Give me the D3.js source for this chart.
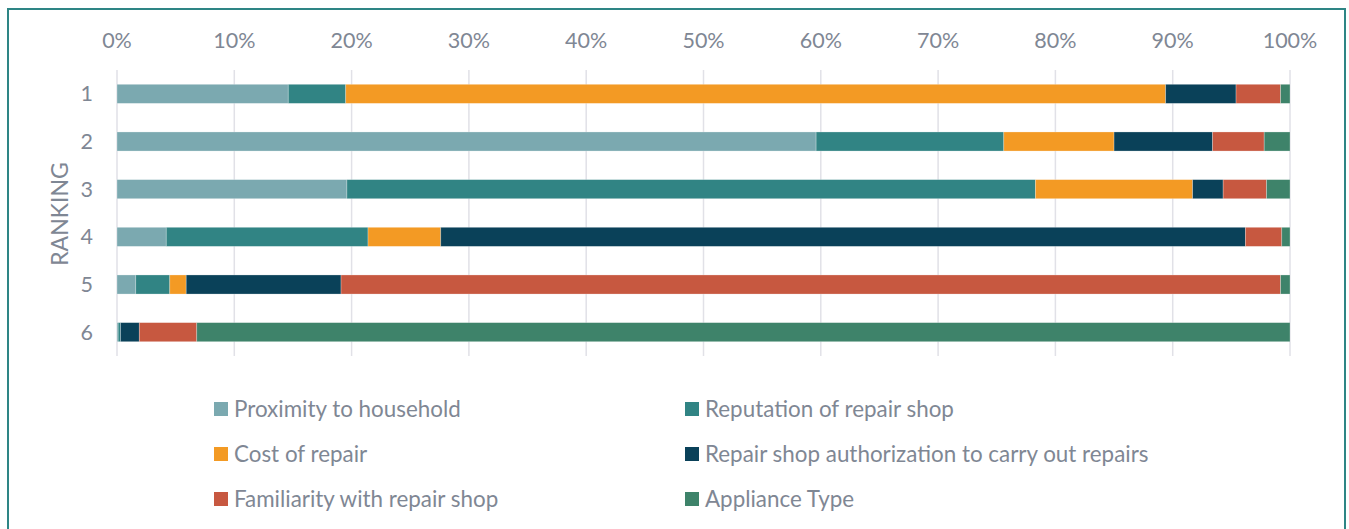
<!DOCTYPE html>
<html>
<head>
<meta charset="utf-8">
<script src="https://cdn.jsdelivr.net/npm/d3@7"></script>
<style>
  body { margin: 0; background: #fff; }
  svg text { font-family: Lato, "Open Sans", sans-serif; fill: #7f8794; }
</style>
</head>
<body>
<svg id="chart" width="1349" height="529"></svg>
<script>
var rankings = ["1", "2", "3", "4", "5", "6"];
var seriesNames = ["Proximity to household", "Reputation of repair shop", "Cost of repair",
  "Repair shop authorization to carry out repairs", "Familiarity with repair shop", "Appliance Type"];
var seriesColors = ["#7ba9b0", "#318484", "#f39a24", "#0a4159", "#c75840", "#3e836a"];

// percent share per ranking, one array per series
var proximity     = [14.6, 59.6, 19.6,  4.2,  1.6,  0.1];
var reputation    = [ 4.9, 16.0, 58.7, 17.2,  2.9,  0.2];
var cost          = [69.9,  9.4, 13.4,  6.2,  1.4,  0.0];
var authorization = [ 6.0,  8.4,  2.6, 68.6, 13.2,  1.6];
var familiarity   = [ 3.8,  4.4,  3.7,  3.1, 80.1,  4.9];
var applianceType = [ 0.8,  2.2,  2.0,  0.7,  0.8, 93.2];

var tickValues = [0, 10, 20, 30, 40, 50, 60, 70, 80, 90, 100];

var allSeries = [proximity, reputation, cost, authorization, familiarity, applianceType];

var svg = d3.select("#chart");

// outer frame
svg.append("rect")
    .attr("x", 8).attr("y", 9)
    .attr("width", 1337).attr("height", 540)
    .attr("fill", "none")
    .attr("stroke", "#2e8585")
    .attr("stroke-width", 2);

var x = d3.scaleLinear().domain([0, 100]).range([117, 1290]);
var y = d3.scaleBand().domain(rankings).range([70, 356]).paddingInner(0.6).paddingOuter(0.3);

// gridlines
svg.append("g")
  .selectAll("line")
  .data(tickValues)
  .enter().append("line")
    .attr("x1", function(d) { return x(d); })
    .attr("x2", function(d) { return x(d); })
    .attr("y1", 70)
    .attr("y2", 356)
    .attr("stroke", "#e1e1e7")
    .attr("stroke-width", 1.5);

// top axis labels
svg.append("g")
  .selectAll("text")
  .data(tickValues)
  .enter().append("text")
    .attr("x", function(d) { return x(d); })
    .attr("y", 40)
    .attr("dy", "0.35em")
    .attr("text-anchor", "middle")
    .style("font-size", "21.5px")
    .text(function(d) { return d + "%"; });

// ranking labels
svg.append("g")
  .selectAll("text")
  .data(rankings)
  .enter().append("text")
    .attr("x", 93)
    .attr("y", function(d) { return y(d) + y.bandwidth() / 2; })
    .attr("dy", "0.35em")
    .attr("text-anchor", "end")
    .style("font-size", "21.5px")
    .text(function(d) { return d; });

svg.append("text")
    .attr("transform", "translate(68,214) rotate(-90)")
    .attr("text-anchor", "middle")
    .style("font-size", "23px")
    .text("RANKING");

// stacked bars
var rows = rankings.map(function(r, i) {
  var row = { rank: r };
  seriesNames.forEach(function(s, j) { row[s] = allSeries[j][i]; });
  return row;
});
var stacked = d3.stack().keys(seriesNames)(rows);

svg.append("g")
  .selectAll("g")
  .data(stacked)
  .enter().append("g")
    .attr("fill", function(d, i) { return seriesColors[i]; })
  .selectAll("rect")
  .data(function(d) { return d; })
  .enter().append("rect")
    .attr("x", function(d) { return x(d[0]); })
    .attr("width", function(d) { return Math.max(0, x(Math.min(d[1], 100)) - x(d[0])); })
    .attr("y", function(d) { return y(d.data.rank); })
    .attr("height", y.bandwidth())
    .attr("stroke", "#fff")
    .attr("stroke-opacity", 0.35)
    .attr("stroke-width", 0.75);

// legend
var legend = svg.append("g")
  .selectAll("g")
  .data(seriesNames)
  .enter().append("g")
    .attr("transform", function(d, i) {
      var col = i % 2, row = Math.floor(i / 2);
      return "translate(" + (col === 0 ? 214 : 685) + "," + [409, 454, 499][row] + ")";
    });

legend.append("rect")
    .attr("x", 0).attr("y", -7)
    .attr("width", 14).attr("height", 14)
    .attr("fill", function(d, i) { return seriesColors[i]; });

legend.append("text")
    .attr("x", 20)
    .attr("y", 0)
    .attr("dy", "0.35em")
    .style("font-size", "22.4px")
    .text(function(d) { return d; });
</script>
</body>
</html>
